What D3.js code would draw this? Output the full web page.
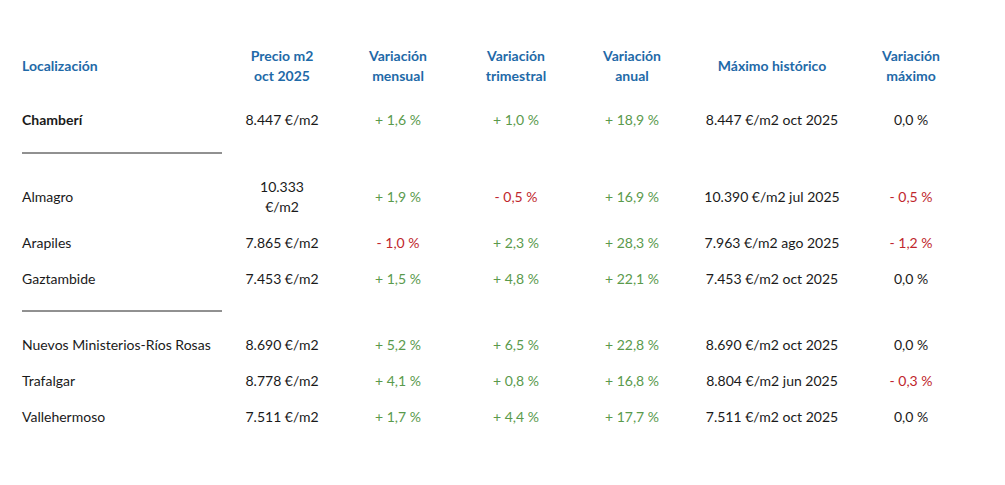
<!DOCTYPE html>
<html>
<head>
<meta charset="utf-8">
<script src="https://cdn.jsdelivr.net/npm/d3@7"></script>
<style>
  body { margin: 0; background: #fff; }
  text { font-family: Lato, "Noto Sans", sans-serif; font-size: 14px; }
</style>
</head>
<body>
<svg width="1005" height="485"></svg>
<script>
// table data
const headers = [["Localización"], ["Precio m2", "oct 2025"], ["Variación", "mensual"],
  ["Variación", "trimestral"], ["Variación", "anual"], ["Máximo histórico"], ["Variación", "máximo"]];
const places = ["Chamberí", "Almagro", "Arapiles", "Gaztambide", "Nuevos Ministerios-Ríos Rosas", "Trafalgar", "Vallehermoso"];
const prices = ["8.447 €/m2", "10.333|€/m2", "7.865 €/m2", "7.453 €/m2", "8.690 €/m2", "8.778 €/m2", "7.511 €/m2"];
const monthly = [1.6, 1.9, -1.0, 1.5, 5.2, 4.1, 1.7];
const quarterly = [1.0, -0.5, 2.3, 4.8, 6.5, 0.8, 4.4];
const yearly = [18.9, 16.9, 28.3, 22.1, 22.8, 16.8, 17.7];
const maxHist = ["8.447 €/m2 oct 2025", "10.390 €/m2 jul 2025", "7.963 €/m2 ago 2025", "7.453 €/m2 oct 2025",
  "8.690 €/m2 oct 2025", "8.804 €/m2 jun 2025", "7.511 €/m2 oct 2025"];
const varMax = [0.0, -0.5, -1.2, 0.0, 0.0, -0.3, 0.0];
const rowY = [119, 196, 242, 278, 344, 380, 416];
const dividers = [153, 311];

const svg = d3.select("svg");
const colX = d3.scaleOrdinal().domain(d3.range(7)).range([22, 282, 398, 516, 632, 772, 911]);
const blue = "#1f6aa8", green = "#5a9a4c", red = "#c0262d", dark = "#1a1a1a";

const fmt = v => (v < 0 ? "- " : "+ ") + d3.format(".1f")(Math.abs(v)).replace(".", ",") + " %";
const fmtMax = v => v === 0 ? "0,0 %" : fmt(v);
const col = v => v < 0 ? red : green;

headers.forEach((h, i) => {
  const t = svg.append("text").attr("x", colX(i)).attr("fill", blue).attr("font-weight", 700)
    .attr("text-anchor", i === 0 ? "start" : "middle").attr("dominant-baseline", "central");
  if (h.length === 1) t.attr("y", 65).text(h[0]);
  else h.forEach((s, k) => t.append("tspan").attr("x", colX(i)).attr("y", 55 + k * 20).text(s));
});

places.forEach((p, r) => {
  const y = rowY[r];
  const cell = (i, txt, fill, bold) => svg.append("text").attr("x", colX(i)).attr("y", y)
    .attr("text-anchor", i === 0 ? "start" : "middle").attr("dominant-baseline", "central")
    .attr("fill", fill).attr("font-weight", bold ? 700 : 400).text(txt);
  cell(0, p, dark, r === 0);
  const pr = prices[r].split("|");
  if (pr.length === 1) cell(1, pr[0], dark);
  else pr.forEach((s, k) => svg.append("text").attr("x", colX(1)).attr("y", y - 10 + k * 20)
    .attr("text-anchor", "middle").attr("dominant-baseline", "central").attr("fill", dark).text(s));
  cell(2, fmt(monthly[r]), col(monthly[r]));
  cell(3, fmt(quarterly[r]), col(quarterly[r]));
  cell(4, fmt(yearly[r]), col(yearly[r]));
  cell(5, maxHist[r], dark);
  cell(6, fmtMax(varMax[r]), varMax[r] < 0 ? red : dark);
});

svg.selectAll("line.div").data(dividers).join("line").attr("class", "div")
  .attr("x1", 22).attr("x2", 222).attr("y1", d => d).attr("y2", d => d)
  .attr("stroke", "#222").attr("stroke-width", 1);
</script>
</body>
</html>
